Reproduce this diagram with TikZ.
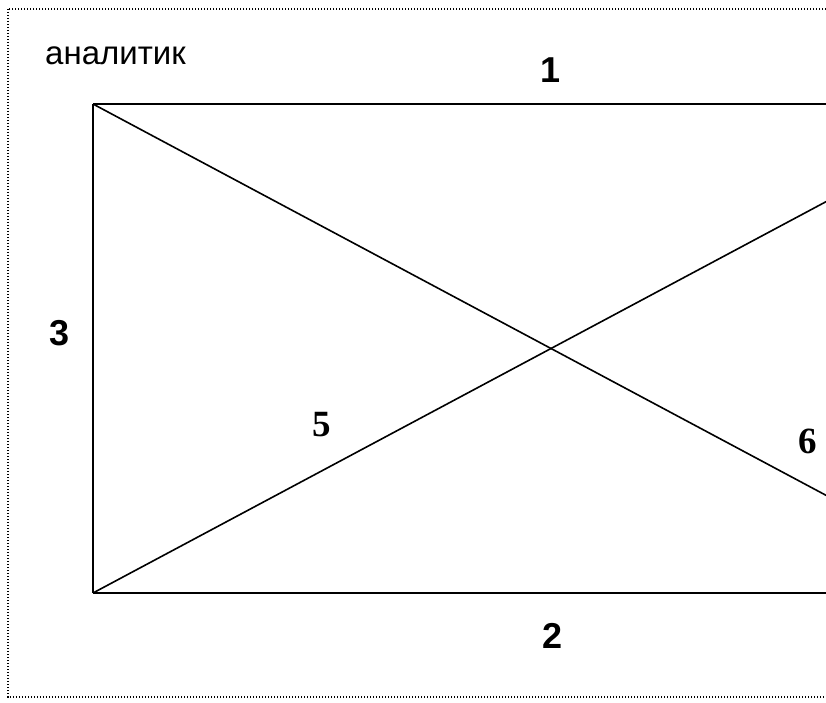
\documentclass[tikz,border=0pt]{standalone}
\usepackage{fontspec}
\setmainfont{Liberation Sans}
\newfontfamily\serifnum{Liberation Serif}
\begin{document}
\begin{tikzpicture}[x=1pt, y=-1pt,
  edge/.style={line width=2pt},
  diag/.style={line width=1.6pt},
  frame/.style={line width=1.6pt, dash pattern=on 1.2pt off 1.8pt},
  num/.style={font=\fontsize{36}{42}\selectfont\bfseries, inner sep=0pt},
  snum/.style={font=\fontsize{37}{42}\selectfont\serifnum\bfseries, inner sep=0pt},
  ttl/.style={font=\fontsize{33}{40}\selectfont, inner sep=0pt}
]
\useasboundingbox (0,0) rectangle (826,703);
\clip (0,0) rectangle (826,703);
% outer dotted frame
\draw[frame] (8,9) rectangle (1100,697);
% corners of the rectangle
\coordinate (tl) at (93,104);
\coordinate (tr) at (1009,104);
\coordinate (bl) at (93,593);
\coordinate (br) at (1009,593);
\draw[edge] (tl) -- (tr);
\draw[edge] (bl) -- (br);
\draw[edge] (tl) -- (bl);
\draw[diag] (tl) -- (br);
\draw[diag] (bl) -- (tr);
% labels
\node[ttl, anchor=base west] (title) at (45,65) {аналитик};
\node[num] (n1) at (551,70) {1};
\node[num] (n2) at (553,636) {2};
\node[num] (n3) at (60,333) {3};
\node[snum] (n5) at (322,425) {5};
\node[snum] (n6) at (808,441) {6};
\end{tikzpicture}
\end{document}
